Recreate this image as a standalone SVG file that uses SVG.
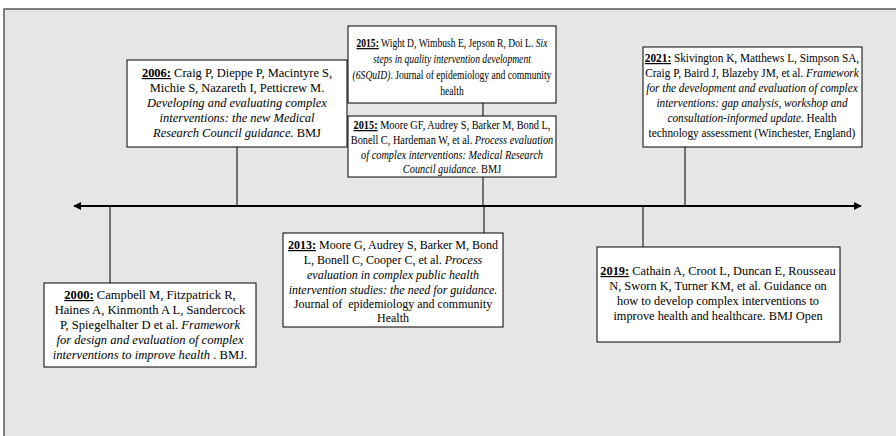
<svg xmlns="http://www.w3.org/2000/svg" width="896" height="436" viewBox="0 0 896 436">
<style>
.panel{fill:#e6e6e6;stroke:#5a5a5a;stroke-width:1.5}
.box{fill:#fff;stroke:#000;stroke-width:1}
.conn{stroke:#000;stroke-width:1;fill:none}
.axis{stroke:#000;stroke-width:2;fill:none}
text{font-family:"Liberation Serif","Times New Roman",serif;font-size:12px;fill:#000;text-anchor:middle}
.y{font-weight:bold;text-decoration:underline}
.i{font-style:italic}
</style>
<defs>
<marker id="ah" viewBox="0 0 10 10" refX="9" refY="5" markerWidth="4" markerHeight="4" orient="auto-start-reverse" markerUnits="strokeWidth">
<path d="M0,0 L10,5 L0,10 z" fill="#000"/>
</marker>
</defs>
<rect class="panel" x="4" y="9" width="900" height="440"/>
<g id="connectors">
<line class="axis" x1="74" y1="206" x2="861" y2="206" marker-start="url(#ah)" marker-end="url(#ah)"/>
<line class="conn" x1="237" y1="147" x2="237" y2="206"/>
<line class="conn" x1="483" y1="103" x2="483" y2="116"/>
<line class="conn" x1="483" y1="177" x2="483" y2="206"/>
<line class="conn" x1="685" y1="147" x2="685" y2="206"/>
<line class="conn" x1="110" y1="206" x2="110" y2="283"/>
<line class="conn" x1="484" y1="206" x2="484" y2="233"/>
<line class="conn" x1="643" y1="206" x2="643" y2="247"/>
</g>
<g id="n2006">
<rect class="box" x="127" y="60" width="220" height="87"/>
<g transform="translate(237,0) scale(1.04,1) translate(-237,0)">
<text x="237" y="77"><tspan class="y">2006:</tspan> Craig P, Dieppe P, Macintyre S,</text>
<text x="237" y="92">Michie S, Nazareth I, Petticrew M.</text>
<text x="237" y="107" class="i">Developing and evaluating complex</text>
<text x="237" y="122" class="i">interventions: the new Medical</text>
<text x="237" y="137"><tspan class="i">Research Council guidance.</tspan> BMJ</text>
</g>
</g>
<g id="n2015a">
<rect class="box" x="348" y="26" width="208" height="77"/>
<g transform="translate(452,0) scale(0.8,1) translate(-452,0)">
<text x="452" y="47"><tspan class="y">2015:</tspan> Wight D, Wimbush E, Jepson R, Doi L. <tspan class="i">Six</tspan></text>
<text x="452" y="63" class="i">steps in quality intervention development</text>
<text x="452" y="79"><tspan class="i">(6SQuID)</tspan>. Journal of epidemiology and community</text>
<text x="452" y="95">health</text>
</g>
</g>
<g id="n2015b">
<rect class="box" x="348" y="116" width="208" height="61"/>
<g transform="translate(452,0) scale(0.86,1) translate(-452,0)">
<text x="452" y="129"><tspan class="y">2015:</tspan> Moore GF, Audrey S, Barker M, Bond L,</text>
<text x="452" y="144">Bonell C, Hardeman W, et al. <tspan class="i">Process evaluation</tspan></text>
<text x="452" y="159" class="i">of complex interventions: Medical Research</text>
<text x="452" y="173"><tspan class="i">Council guidance.</tspan> BMJ</text>
</g>
</g>
<g id="n2021">
<rect class="box" x="643" y="47" width="219" height="100"/>
<g transform="translate(752,0) scale(0.94,1) translate(-752,0)">
<text x="752" y="62"><tspan class="y">2021:</tspan> Skivington K, Matthews L, Simpson SA,</text>
<text x="752" y="77">Craig P, Baird J, Blazeby JM, et al. <tspan class="i">Framework</tspan></text>
<text x="752" y="92" class="i">for the development and evaluation of complex</text>
<text x="752" y="107" class="i">interventions: gap analysis, workshop and</text>
<text x="752" y="122"><tspan class="i">consultation-informed update.</tspan> Health</text>
<text x="752" y="137">technology assessment (Winchester, England)</text>
</g>
</g>
<g id="n2000">
<rect class="box" x="44" y="283" width="212" height="84"/>
<g transform="translate(150,0) scale(1.05,1) translate(-150,0)">
<text x="150" y="299"><tspan class="y">2000:</tspan> Campbell M, Fitzpatrick R,</text>
<text x="150" y="314">Haines A, Kinmonth A L, Sandercock</text>
<text x="150" y="329">P, Spiegelhalter D et al. <tspan class="i">Framework</tspan></text>
<text x="150" y="344" class="i">for design and evaluation of complex</text>
<text x="150" y="359"><tspan class="i">interventions to improve health</tspan> . BMJ.</text>
</g>
</g>
<g id="n2013">
<rect class="box" x="283" y="233" width="220" height="94"/>
<text x="393" y="249"><tspan class="y">2013:</tspan> Moore G, Audrey S, Barker M, Bond</text>
<text x="393" y="264">L, Bonell C, Cooper C, et al. <tspan class="i">Process</tspan></text>
<text x="393" y="279" class="i">evaluation in complex public health</text>
<text x="393" y="294" class="i">intervention studies: the need for guidance.</text>
<text x="393" y="308" xml:space="preserve">Journal of  epidemiology and community</text>
<text x="393" y="322">Health</text>
</g>
<g id="n2019">
<rect class="box" x="597" y="247" width="243" height="95"/>
<g transform="translate(718,0) scale(1.03,1) translate(-718,0)">
<text x="718" y="275"><tspan class="y">2019:</tspan> Cathain A, Croot L, Duncan E, Rousseau</text>
<text x="718" y="290">N, Sworn K, Turner KM, et al. Guidance on</text>
<text x="718" y="305">how to develop complex interventions to</text>
<text x="718" y="320">improve health and healthcare. BMJ Open</text>
</g>
</g>
</svg>
